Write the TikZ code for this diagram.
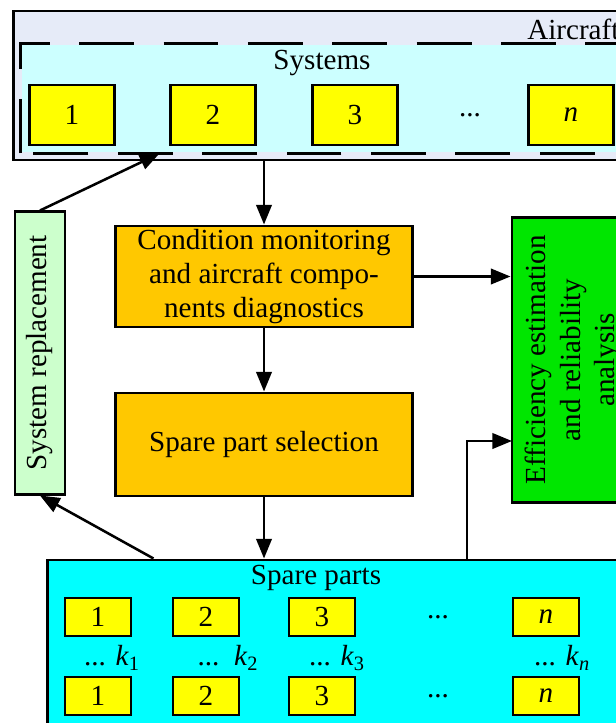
\documentclass[tikz,border=0pt]{standalone}
\usepackage{fontspec}
\setmainfont{Liberation Serif}
\usetikzlibrary{arrows.meta}
\definecolor{aircraftbg}{RGB}{230,235,248}
\definecolor{systemsbg}{RGB}{204,255,255}
\definecolor{partyellow}{RGB}{255,255,0}
\definecolor{procorange}{RGB}{255,200,0}
\definecolor{effgreen}{RGB}{0,230,0}
\definecolor{replgreen}{RGB}{204,255,204}
\definecolor{sparecyan}{RGB}{0,255,255}
\begin{document}
\begin{tikzpicture}[x=0.025cm, y=-0.025cm, font=\fontsize{20.7}{24.5}\selectfont]
  \tikzstyle{frame} = [rectangle, draw, line width=2.1pt, inner sep=0pt]
  \tikzstyle{sysbox} = [frame, fill=partyellow, minimum width=2.125cm, minimum height=1.5cm]
  \tikzstyle{partbox} = [frame, fill=partyellow, minimum width=1.65cm, minimum height=0.95cm]
  \tikzstyle{process} = [frame, fill=procorange, minimum width=7.4cm, align=center]
  \tikzstyle{arrow} = [line width=1.8pt, -{Triangle[length=14pt,width=11pt]}]

  \useasboundingbox (0,0) rectangle (616,723);
  \clip (0,0) rectangle (616,723);

  % Aircraft and its systems
  \node (aircraft) [frame, fill=aircraftbg, minimum width=16.15cm, minimum height=3.725cm] at (337,85.5) {};
  \node (aircraftlbl) [anchor=west, inner sep=0pt] at (527,29) {Aircraft};
  \node (systems) [frame, draw=none, fill=systemsbg, minimum width=15.95cm, minimum height=2.675cm] at (341,98.5) {};
  \draw[line width=2.1pt, dash pattern=on 39pt off 21pt] (systems.south west) rectangle (systems.north east);
  \node (systemslbl) at (322,63) {Systems};
  \node (sys1) [sysbox] at (72,115) {1};
  \node (sys2) [sysbox] at (213,115) {2};
  \node (sys3) [sysbox] at (355,115) {3};
  \node (sysdots) at (470,115) {...};
  \node (sysn) [sysbox] at (571,115) {\textit{n}};

  % Processing
  \node (cond) [process, minimum height=2.525cm] at (264,276.5) {Condition monitoring\\and aircraft compo-\\nents diagnostics};
  \node (select) [process, minimum height=2.575cm] at (264,444.5) {Spare part selection};
  \node (eff) [frame, fill=effgreen, rotate=90, align=center, minimum width=7.1cm, minimum height=3.05cm] at (573,360) {Efficiency estimation\\and reliability\\analysis};
  \node (sysrep) [frame, fill=replgreen, rotate=90, minimum width=7.05cm, minimum height=1.25cm] at (40,353) {System replacement};

  % Spare parts
  \node (spare) [frame, fill=sparecyan, minimum width=15.3cm, minimum height=5cm] at (354,660) {};
  \node (sparelbl) at (316,578) {Spare parts};
  \node (sp1a) [partbox] at (98,617) {1};
  \node (sp2a) [partbox] at (206,617) {2};
  \node (sp3a) [partbox] at (322,617) {3};
  \node (spdotsa) at (438,617) {...};
  \node (spna) [partbox] at (546,617) {\textit{n}};
  \node (k1) at (112,658) {... \textit{k}\textsubscript{1}};
  \node (k2) at (228,658) {...~~\textit{k}\textsubscript{2}};
  \node (k3) at (337,658) {... \textit{k}\textsubscript{3}};
  \node (kn) at (562,658) {... \textit{k}\textsubscript{\textit{n}}};
  \node (sp1b) [partbox] at (98,696) {1};
  \node (sp2b) [partbox] at (206,696) {2};
  \node (sp3b) [partbox] at (322,696) {3};
  \node (spdotsb) at (438,696) {...};
  \node (spnb) [partbox] at (546,696) {\textit{n}};

  % Arrows
  \coordinate (feed) at (467,560);
  \coordinate (effin) at (512,441);
  \draw[arrow] (aircraft.south -| cond.north) -- (cond.north);
  \draw[arrow] (cond) -- (select);
  \draw[arrow] (select) -- (select.south |- spare.north);
  \draw[arrow] (cond.east) -- (cond.east -| eff.north);
  \draw[arrow] (feed) |- (effin);
  \draw[arrow] ([xshift=2.675cm]spare.north west) -- (sysrep.west);
  \draw[arrow] (sysrep.east) -- ([xshift=3.475cm]systems.south west);

\end{tikzpicture}
\end{document}
